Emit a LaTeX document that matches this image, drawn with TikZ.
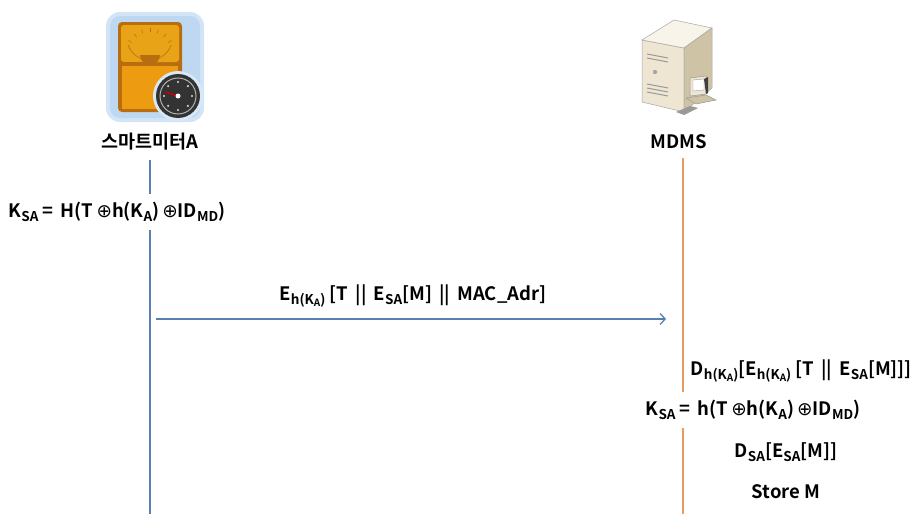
\documentclass[tikz,border=0pt]{standalone}
\usepackage{fontspec}
\setmainfont{Noto Sans CJK KR}[BoldFont={* Bold}]
\newfontfamily\symfont{DejaVu Sans}
\usetikzlibrary{arrows.meta,shapes.geometric}
\definecolor{lblue}{HTML}{5A80B2}
\definecolor{lorange}{HTML}{E89C62}
\definecolor{mgold}{HTML}{E8A317}
\definecolor{mgoldd}{HTML}{B86E10}
\definecolor{mglow}{HTML}{BFD8F2}
\definecolor{sbeige}{HTML}{EEE6D2}
\definecolor{sbeiged}{HTML}{CFC3A6}
\definecolor{sbeigel}{HTML}{F8F4EA}
\newcommand{\lsb}[1]{\raisebox{-0.35ex}{\fontsize{13.5}{13.5}\selectfont #1}}
\newcommand{\lssb}[1]{\raisebox{-0.3ex}{\fontsize{10}{10}\selectfont #1}}
\newcommand{\xo}{{\symfont\mdseries\,⊕}}
\tikzset{
  lbl/.style={font=\fontsize{18.5}{22}\selectfont\bfseries, inner sep=2pt},
  wlbl/.style={lbl, fill=white, inner ysep=8pt},
  life/.style={line width=2pt},
}
\begin{document}
\begin{tikzpicture}[x=1pt,y=-1pt]
\useasboundingbox (0,0) rectangle (915,514);
% ---- smart meter icon ----
\fill[mglow!70!white, rounded corners=14pt] (106,12) rectangle (204,122);
\fill[mglow, rounded corners=10pt] (110,16) rectangle (200,118);
\fill[mgoldd, rounded corners=4pt] (118,22) rectangle (182,112);
\fill[mgold, rounded corners=3pt] (121,25) rectangle (179,62);
\draw[mgoldd, line width=0.6pt] (128,45) arc[start angle=160,end angle=20,radius=23];
\foreach \a in {30,50,...,150} \draw[mgoldd,line width=0.5pt] ({150+21*cos(\a)},{53-21*sin(\a)}) -- ({150+25*cos(\a)},{53-25*sin(\a)});
\fill[mgoldd] (140,55) arc[start angle=180,end angle=0,radius=10] -- cycle;
\fill[mgold!80!orange] (122,66) rectangle (178,109);
\fill[mgoldd] (124,62) rectangle (148,65);
\fill[mglow!60!white] (178,96) circle (25);
\fill[black!80] (178,96) circle (22);
\draw[gray!60, line width=1pt] (178,96) circle (18);
\foreach \a in {0,45,...,315} \fill[white!70!gray] ({178+14*cos(\a)},{96+14*sin(\a)}) circle (1.2);
\draw[red!80!black, line width=1.5pt] (178,96) -- (165,92);
\fill[white] (178,96) circle (2.5);
% ---- server icon ----
\fill[sbeige, draw=gray!70, line width=0.5pt] (642,40) -- (684,48) -- (684,112) -- (642,102) -- cycle;
\fill[sbeigel, draw=gray!70, line width=0.5pt] (642,40) -- (674,20) -- (712,28) -- (684,48) -- cycle;
\fill[sbeiged, draw=gray!70, line width=0.5pt] (684,48) -- (712,28) -- (712,88) -- (684,112) -- cycle;
\foreach \yy in {54,58,84,88,92} \draw[gray!80, line width=1pt] (647,\yy) -- (668,{\yy+4});
\fill[gray!70] (655,72) circle (2.2);
% small pc
\fill[sbeige, draw=gray!80, line width=0.5pt] (690,78) -- (706,76) -- (706,94) -- (690,96) -- cycle;
\fill[white, draw=gray!80, line width=0.4pt] (693,80) -- (704,79) -- (704,90) -- (693,91) -- cycle;
\fill[black!75] (704,79) -- (708,77) -- (708,93) -- (706,94) -- cycle;
\fill[sbeiged, draw=gray!80, line width=0.5pt] (686,98) -- (706,95) -- (716,100) -- (696,104) -- cycle;
\fill[gray!80] (676,112) -- (690,106) -- (698,108) -- (684,115) -- cycle;
% ---- participants ----
\node[lbl] (sm) at (150,142) {스마트미터A};
\node[lbl] (md) at (679,142) {MDMS};
\coordinate (smtop) at (150,160);
\coordinate (smbot) at (150,514);
\coordinate (mdtop) at (683,158);
\coordinate (mdbot) at (683,514);
\draw[life, lblue] (smtop) -- (smbot);
\draw[life, lorange, line width=2.5pt] (mdtop) -- (mdbot);
% ---- messages ----
\node[wlbl] (k1) at (117,212) {K\lsb{SA} = \,H(T\xo h(K\lsb{A})\xo ID\lsb{MD})};
\coordinate (astart) at (156,319);
\coordinate (aend) at (666,319);
\draw[lblue, line width=1.3pt, -{Straight Barb[length=5pt,width=11pt]}] (astart) -- (aend);
\node[lbl] (msg) at (413,296) {E\lsb{h(K\lssb{A})} [T \,|| \,E\lsb{SA}[M] \,|| \,MAC\_Adr]};
\node[lbl, anchor=east] (d1) at (914,371) {D\lsb{h(K\lssb{A})}[E\lsb{h(K\lssb{A})} [T \,|| \,E\lsb{SA}[M]]]};
\node[wlbl] (k2) at (753,410) {K\lsb{SA} = \,h(T\xo h(K\lsb{A})\xo ID\lsb{MD})};
\node[lbl] (d2) at (786,452) {D\lsb{SA}[E\lsb{SA}[M]]};
\node[lbl] (st) at (786,492) {Store M};
\end{tikzpicture}
\end{document}
